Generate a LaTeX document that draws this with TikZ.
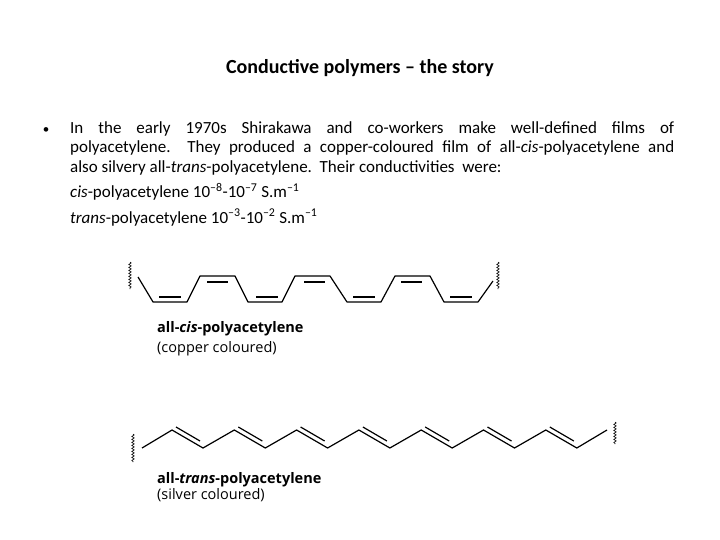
\documentclass[tikz,border=0pt]{standalone}
\usepackage{fontspec}
\setmainfont{Carlito}
\newfontfamily\lab{Open Sans}
\tikzset{bond/.style={line width=1.2pt,line join=round},
 wavy/.style={line width=0.6pt,decorate,decoration={snake,amplitude=1.2pt,segment length=3pt}},
 lbl/.style={anchor=base west,inner sep=0pt,font=\lab\fontsize{14.5}{17}\selectfont}}
\usetikzlibrary{decorations.pathmorphing}
\begin{document}
\begin{tikzpicture}[x=1pt,y=-1pt]
\useasboundingbox[fill=white] (0,0) rectangle (720,540);
\node (title) at (360,68) {\fontsize{20}{24}\selectfont\bfseries Conductive polymers -- the story};
\node (bul) at (46,131) {\fontsize{13}{19}\selectfont •};
\node[anchor=north west,inner sep=0pt,text width=604pt,align=justify] (body) at (70,121)
 {\fontsize{17}{19.5}\selectfont\hyphenpenalty=10000 In the early 1970s Shirakawa and co-workers make well-defined films of\linebreak polyacetylene.\ \ They produced a copper-coloured film of all-\textit{cis}-polyacetylene and\linebreak also silvery all-\textit{trans}-polyacetylene.\ \ Their conductivities\ \ were:\par\vspace{6pt}
 \textit{cis}-polyacetylene 10\textsuperscript{–8}-10\textsuperscript{–7} S.m\textsuperscript{–1}\par\vspace{6pt}
 \textit{trans}-polyacetylene 10\textsuperscript{–3}-10\textsuperscript{–2} S.m\textsuperscript{–1}\par};
% cis chain
\coordinate (cs) at (138,277);
\coordinate (ce) at (493,281);
\draw[bond] (cs) -- (153,302) -- (187,302) -- (200,276) -- (235,276) -- (248,302) -- (282,302) -- (295,276) -- (330,276) -- (347,302) -- (381,302) -- (395,276) -- (430,276) -- (444,302) -- (478,302) -- (ce);
\foreach \k in {0,1,2,3}{\draw[bond] ({159+97*\k},297) -- ({181+97*\k},297);}
\foreach \k in {0,1,2}{\draw[bond] ({207+97*\k},282) -- ({228+97*\k},282);}
\draw[wavy] (130,262) -- (130,289);
\draw[wavy] (498,262) -- (498,289);
\node[lbl] (cisl) at (157,332) {\textbf{all-\textit{cis}-polyacetylene}};
\node[lbl] (cisc) at (157,352) {(copper coloured)};
% trans chain
\draw[bond] (142,448) \foreach \k in {0,...,6}{ -- ({172+62.3*\k},430) -- ({203+62.3*\k},448)} -- (607,430);
\foreach \k in {0,...,6}{\draw[bond] ({176+62.3*\k},427) -- ({200+62.3*\k},441);}
\draw[wavy] (133,434) -- (133,462);
\draw[wavy] (615,422) -- (615,444);
\node[lbl] (trl) at (157,483) {\textbf{all-\textit{trans}-polyacetylene}};
\node[lbl] (trc) at (157,499) {(silver coloured)};
\end{tikzpicture}
\end{document}
